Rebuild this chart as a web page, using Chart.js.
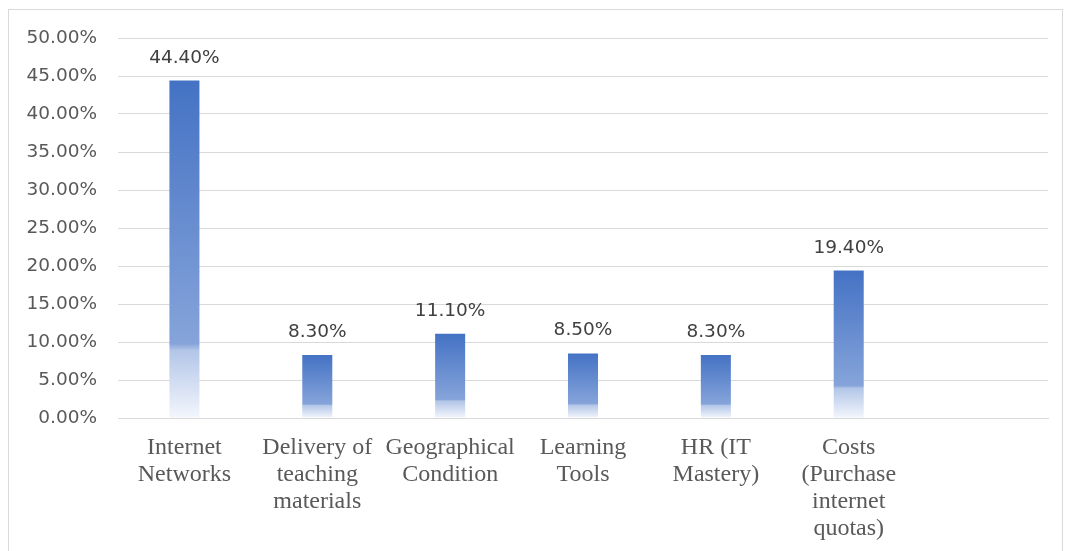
<!DOCTYPE html>
<html>
<head>
<meta charset="utf-8">
<script src="https://cdn.jsdelivr.net/npm/chart.js@4"></script>
<style>
  html,body{margin:0;padding:0;background:#fff;}
  #wrap{position:absolute;left:0;top:0;width:1065px;height:551px;}
  #frame{position:absolute;left:8px;top:9px;width:1055px;height:560px;border:1px solid #D9D9D9;box-sizing:border-box;}
  canvas{position:absolute;left:0;top:0;}
</style>
</head>
<body>
<div id="wrap">
  <div id="frame"></div>
  <canvas id="c" width="1065" height="551"></canvas>
</div>
<script>
const categories = [
  ["Internet", "Networks"],
  ["Delivery of", "teaching", "materials"],
  ["Geographical", "Condition"],
  ["Learning", "Tools"],
  ["HR (IT", "Mastery)"],
  ["Costs", "(Purchase", "internet", "quotas)"],
  ""
];
const values = [44.4, 8.3, 11.1, 8.5, 8.3, 19.4, null];
const yTickMin = 0;
const yTickMax = 50;
const yTickStep = 5;

const labelPlugin = {
  id: 'valueLabels',
  afterDatasetsDraw(chart) {
    const ctx = chart.ctx;
    const meta = chart.getDatasetMeta(0);
    ctx.save();
    ctx.font = '18.5px "DejaVu Sans"';
    ctx.fillStyle = '#404040';
    ctx.textAlign = 'center';
    ctx.textBaseline = 'alphabetic';
    meta.data.forEach((el, i) => {
      const v = values[i];
      if (v === null || v === undefined) return;
      ctx.fillText(v.toFixed(2) + '%', el.x, el.y - 18);
    });
    ctx.restore();
  }
};

function barGradient(context) {
  const chart = context.chart;
  if (!chart.chartArea || context.type !== 'data') return '#4472C4';
  const v = context.raw;
  if (v === null || v === undefined) return '#4472C4';
  const y = chart.scales.y;
  const top = y.getPixelForValue(v);
  const bottom = y.getPixelForValue(0);
  const g = chart.ctx.createLinearGradient(0, top, 0, bottom);
  g.addColorStop(0, '#4472C4');
  g.addColorStop(0.78, '#86A4DA');
  g.addColorStop(0.80, '#B3C6E8');
  g.addColorStop(1, '#F3F6FC');
  return g;
}

new Chart(document.getElementById('c'), {
  type: 'bar',
  data: {
    labels: categories,
    datasets: [{
      data: values,
      backgroundColor: barGradient,
      borderWidth: 0,
      categoryPercentage: 1,
      barPercentage: 0.226
    }]
  },
  options: {
    responsive: false,
    animation: false,
    devicePixelRatio: 1,
    layout: { padding: { left: 0, right: 17, top: 38, bottom: 0 } },
    plugins: { legend: { display: false }, tooltip: { enabled: false } },
    scales: {
      x: {
        grid: { display: false, drawTicks: false },
        border: { display: true, color: '#D9D9D9', width: 1 },
        ticks: {
          color: '#595959',
          font: { family: '"Liberation Serif"', size: 24, lineHeight: 1.125 },
          padding: 16,
          maxRotation: 0,
          autoSkip: false
        },
        afterFit(scale) { scale.height = 133; }
      },
      y: {
        min: yTickMin,
        max: yTickMax,
        grid: { color: '#D9D9D9', lineWidth: 1, drawTicks: false },
        border: { display: false },
        ticks: {
          stepSize: yTickStep,
          color: '#595959',
          font: { family: '"DejaVu Sans"', size: 18.5 },
          padding: 21,
          callback: (v) => Number(v).toFixed(2) + '%'
        },
        afterFit(scale) { scale.width = 118; }
      }
    }
  },
  plugins: [labelPlugin]
});
</script>
</body>
</html>
